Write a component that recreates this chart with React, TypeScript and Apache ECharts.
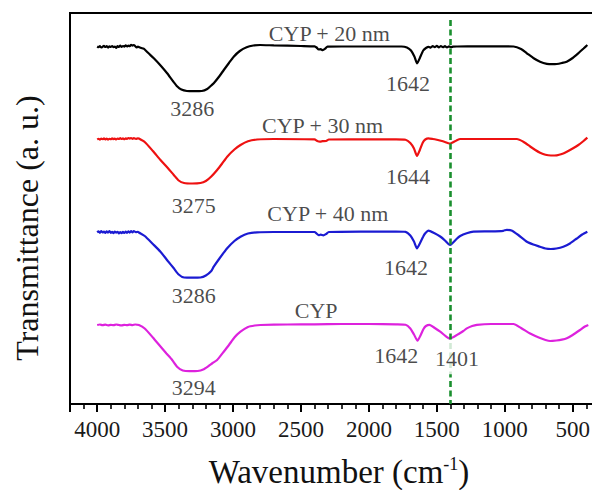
import React, { useEffect, useRef } from "react";
import * as echarts from "echarts";

// Tick labels of the wavenumber axis (cm^-1)
const wavenumberTicks = [4000, 3500, 3000, 2500, 2000, 1500, 1000, 500];

// Spectra: [wavenumber (cm^-1), transmittance (a. u., offset stacked)]
const cyp20nm: [number, number][] = [
  [4000, 357.5], [3990, 356.8], [3980, 357.8], [3970, 356.5], [3960, 357.2], [3950, 358.2],
  [3940, 357], [3930, 357.8], [3920, 356.4], [3910, 357.6], [3900, 357], [3890, 358],
  [3880, 356.8], [3870, 357.4], [3860, 356.2], [3850, 357.8], [3840, 357], [3830, 358.4],
  [3820, 357.2], [3810, 358], [3800, 357.4], [3790, 358.6], [3780, 357.6], [3770, 358.4],
  [3760, 357.8], [3750, 359.2], [3740, 358.4], [3730, 359], [3720, 357.8], [3710, 356.6],
  [3700, 357.4], [3690, 356.8], [3675, 356], [3660, 355.4], [3650, 354.5], [3620, 350.5],
  [3583, 345.7], [3530, 338], [3485, 330.7], [3440, 322.5], [3410, 317.5], [3380, 314.5],
  [3340, 313], [3286, 312.8], [3230, 313], [3190, 315], [3160, 318.5], [3142, 320.7],
  [3105, 327], [3068, 334], [3030, 341], [2995, 347.3], [2950, 353], [2900, 356.8],
  [2850, 358.5], [2800, 359], [2700, 358.6], [2500, 358], [2400, 357.6], [2385, 356.5],
  [2370, 354.5], [2355, 354.8], [2340, 353.8], [2320, 355.5], [2305, 357.4], [2100, 357.5],
  [1900, 357.5], [1760, 357.5], [1720, 356.5], [1690, 353.5], [1665, 347.5], [1645, 340.7],
  [1625, 346], [1600, 353.5], [1580, 356], [1560, 357.2], [1545, 356.4], [1530, 358],
  [1515, 356.8], [1500, 358.2], [1485, 356.6], [1470, 358], [1455, 356.8], [1440, 357.8],
  [1425, 356.6], [1410, 357.6], [1395, 356.8], [1380, 357.4], [1350, 357.5], [1200, 357.6],
  [1000, 357.6], [935, 357.5], [880, 355], [837, 350.7], [790, 346], [740, 342.3],
  [690, 340.2], [650, 339.8], [617, 340], [580, 341], [544, 342.3], [500, 346],
  [459, 350.7], [420, 355.5], [392, 359],
];

const cyp30nm: [number, number][] = [
  [4000, 264.6], [3990, 265.2], [3980, 264.4], [3970, 265.4], [3960, 264.8], [3950, 265.6],
  [3940, 264.6], [3930, 265.3], [3920, 264.4], [3910, 265.2], [3900, 264.8], [3890, 265.6],
  [3880, 264.9], [3870, 265.4], [3860, 264.5], [3850, 265.5], [3840, 265], [3830, 265.8],
  [3820, 265], [3810, 265.6], [3800, 264.8], [3790, 265.6], [3780, 265.2], [3770, 266],
  [3760, 265.4], [3750, 266], [3740, 265.2], [3730, 265.8], [3715, 265.2], [3700, 265.6],
  [3693, 265.5], [3650, 262], [3590, 253], [3534, 244], [3480, 236], [3436, 229],
  [3400, 223.5], [3360, 221], [3300, 220.5], [3240, 221], [3200, 223], [3160, 227.5],
  [3117, 234], [3080, 240.5], [3043, 247.3], [2990, 254.5], [2945, 259], [2890, 262.8],
  [2823, 264.5], [2700, 265], [2400, 264.6], [2380, 263], [2360, 262.4], [2340, 262.8],
  [2315, 263], [2295, 264.5], [2000, 264.6], [1800, 264.6], [1730, 264.2], [1695, 261],
  [1668, 255.5], [1646, 248], [1625, 254], [1603, 261.5], [1585, 264.5], [1561, 265.6],
  [1530, 265], [1500, 264.2], [1470, 263.2], [1440, 262], [1415, 260.8], [1401, 260.5],
  [1380, 261.8], [1355, 263.6], [1327, 265], [1100, 265], [911, 265], [860, 262],
  [813, 257.5], [775, 254], [740, 251.3], [700, 249.2], [660, 248.5], [617, 248.7],
  [580, 250], [543, 252.3], [500, 255.5], [458, 259], [420, 263], [392, 266.3],
];

const cyp40nm: [number, number][] = [
  [4000, 171.6], [3990, 172.6], [3980, 171.2], [3970, 172.8], [3960, 171.6], [3950, 172.4],
  [3940, 171], [3930, 172.6], [3920, 171.4], [3910, 172.8], [3900, 171.2], [3890, 172.2],
  [3880, 170.8], [3870, 172.4], [3860, 171.4], [3850, 172.2], [3840, 170.6], [3830, 172],
  [3820, 170.8], [3810, 172.2], [3800, 171], [3790, 172.4], [3780, 171.2], [3770, 172.6],
  [3760, 171.4], [3750, 172.8], [3740, 171.6], [3730, 172.8], [3715, 171.8], [3700, 172.2],
  [3693, 171.5], [3650, 168], [3590, 160], [3534, 152.3], [3480, 143], [3436, 135.7],
  [3400, 129.5], [3360, 126.5], [3300, 126.3], [3240, 126.5], [3200, 128.5], [3160, 133],
  [3142, 137.3], [3100, 145.5], [3043, 155.7], [2990, 163], [2945, 167.3], [2890, 170.5],
  [2823, 171.7], [2700, 172], [2400, 172], [2385, 170.5], [2370, 168.8], [2355, 169.4],
  [2335, 168.6], [2315, 170], [2295, 172], [2000, 172.4], [1800, 172.5], [1730, 172.2],
  [1695, 168.5], [1668, 162.5], [1646, 155.7], [1625, 160.5], [1600, 167.5], [1585, 170.7],
  [1561, 173.4], [1520, 171], [1475, 167.5], [1440, 163.5], [1415, 160], [1401, 159],
  [1380, 161.5], [1355, 165], [1328, 168], [1280, 170.8], [1230, 172.4], [1100, 172.6],
  [1010, 173.2], [985, 174.2], [950, 173.5], [900, 169], [837, 162.3], [790, 159.5],
  [740, 157.3], [700, 155.5], [660, 155], [620, 155.5], [569, 157.3], [520, 160.5],
  [470, 165.5], [430, 169.5], [392, 172.3],
];

const cypPure: [number, number][] = [
  [4000, 79], [3980, 79.5], [3960, 78.8], [3940, 79.4], [3920, 78.6], [3900, 79.2],
  [3880, 78.8], [3860, 79.5], [3840, 79], [3820, 78.6], [3800, 79.2], [3780, 78.8],
  [3760, 79.4], [3740, 78.9], [3720, 79.5], [3693, 79], [3650, 75.5], [3590, 66.5],
  [3534, 57.5], [3490, 50.5], [3448, 44], [3410, 37], [3370, 33.5], [3320, 32.8],
  [3260, 33], [3220, 34.5], [3180, 38], [3150, 41], [3117, 44], [3070, 52],
  [3030, 59], [2990, 66.5], [2945, 72.3], [2890, 77], [2840, 78.5], [2798, 79],
  [2600, 79.5], [2400, 79.6], [2200, 80], [2000, 80], [1800, 79.6], [1730, 79.2],
  [1695, 75.5], [1668, 69.5], [1642, 63.3], [1620, 68.5], [1598, 75], [1580, 78],
  [1554, 79.2], [1515, 76], [1475, 72.3], [1440, 68.5], [1415, 66], [1401, 65.6],
  [1370, 67.5], [1340, 70], [1305, 73], [1279, 75.6], [1240, 78], [1205, 79.2],
  [1100, 80], [936, 80], [880, 76], [813, 70.5], [775, 68], [740, 66],
  [700, 64], [666, 63], [620, 63.5], [580, 64.3], [543, 65.7], [500, 69],
  [446, 74], [410, 77.5], [385, 79],
];

const seriesNames = ["CYP + 20 nm", "CYP + 30 nm", "CYP + 40 nm", "CYP"];
const seriesColors = ["#000000", "#ee1111", "#1b1bd2", "#dd22dd"];

// Peak / curve annotations
const annotationTexts = [
  "CYP + 20 nm", "3286", "1642",
  "CYP + 30 nm", "3275", "1644",
  "CYP + 40 nm", "3286", "1642",
  "CYP", "3294", "1642", "1401",
];
const annotationWavenumbers = [2291, 3301, 1712, 2341, 3289, 1712, 2302, 3289, 1726, 2388, 3290, 1799, 1352];
const annotationLevels = [371, 295.7, 320.7, 279, 199, 227.3, 190.7, 109, 136.7, 94, 16.5, 48.7, 45.7];

// Reference band marker
const markerWavenumber = 1401;
const markerTop = 384;

const FONT = '"Liberation Serif", "Times New Roman", serif';

export default function App() {
  const ref = useRef<HTMLDivElement>(null);

  useEffect(() => {
    if (!ref.current) return;
    const chart = echarts.init(ref.current, undefined, { renderer: "svg" });
    const spectra = [cyp20nm, cyp30nm, cyp40nm, cypPure];

    const lineSeries: any[] = spectra.map((data, i) => ({
      type: "line",
      name: seriesNames[i],
      data,
      showSymbol: false,
      smooth: 0.2,
      lineStyle: { color: seriesColors[i], width: 2.2 },
      itemStyle: { color: seriesColors[i] },
      z: 3,
      ...(i === 3
        ? {
            markLine: {
              silent: true,
              symbol: ["none", "none"],
              label: { show: false },
              lineStyle: { color: "#1a8f2e", width: 2.6, type: [6, 3.5] },
              data: [[{ coord: [markerWavenumber, markerTop] }, { coord: [markerWavenumber, 0] }]],
              z: 4,
            },
          }
        : {}),
    }));

    const annData = annotationTexts.map((t, i) => ({
      value: [annotationWavenumbers[i], annotationLevels[i]],
      name: t,
      label:
        t === "1401"
          ? { backgroundColor: "#ffffff", padding: [5, 2, 5, 2] }
          : undefined,
    }));

    chart.setOption({
      animation: false,
      grid: {
        left: 70,
        top: 13,
        width: 570.6,
        height: 391,
        show: true,
        borderColor: "#000",
        borderWidth: 2,
        backgroundColor: "transparent",
        outerBoundsMode: "none",
        containLabel: false,
      },
      xAxis: {
        type: "value",
        inverse: true,
        min: 0,
        max: 4200,
        interval: 500,
        axisLine: { show: true, lineStyle: { color: "#000", width: 2 } },
        axisTick: { show: true, length: 8, lineStyle: { color: "#000", width: 2 } },
        minorTick: { show: true, splitNumber: 5, length: 5, lineStyle: { color: "#000", width: 1.6 } },
        axisLabel: {
          fontSize: 23,
          fontFamily: FONT,
          color: "#1a1a1a",
          margin: 14,
          formatter: (v: number) => (wavenumberTicks.includes(v) ? String(v) : ""),
        },
        splitLine: { show: false },
      },
      yAxis: {
        type: "value",
        min: 0,
        max: 391,
        axisLine: { show: true, lineStyle: { color: "#000", width: 2 } },
        axisTick: { show: false },
        axisLabel: { show: false },
        splitLine: { show: false },
      },
      series: [
        ...lineSeries,
        {
          type: "scatter",
          data: annData,
          symbolSize: 0,
          silent: true,
          z: 10,
          label: {
            show: true,
            position: "inside",
            formatter: (p: any) => p.name,
            fontSize: 22,
            fontFamily: FONT,
            color: "#1a1a1a",
          },
        },
      ],
      graphic: [
        {
          type: "text",
          x: 339,
          y: 472,
          style: {
            text: "{a|Wavenumber (cm}{s|-1}{a|)}",
            align: "center",
            verticalAlign: "middle",
            fill: "#111",
            rich: {
              a: { fontSize: 33, fontFamily: FONT, fill: "#111", lineHeight: 35 },
              s: { fontSize: 18, fontFamily: FONT, fill: "#111", verticalAlign: "top", lineHeight: 35, padding: [0, 0, 14, 0] },
            },
          },
        },
        {
          type: "text",
          x: 27,
          y: 228,
          rotation: Math.PI / 2,
          style: {
            text: "Transmittance (a. u.)",
            align: "center",
            verticalAlign: "middle",
            fontSize: 32,
            fontFamily: FONT,
            fill: "#111",
          },
        },
      ],
    });

    return () => chart.dispose();
  }, []);

  return (
    <div
      ref={ref}
      style={{ position: "fixed", left: 0, top: 0, width: 592, height: 490, background: "#fff" }}
    />
  );
}
